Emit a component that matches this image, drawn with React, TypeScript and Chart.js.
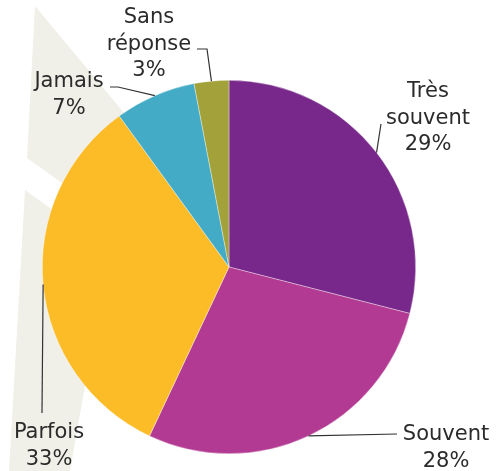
import React, { useEffect, useRef } from "react";
import { Chart, registerables } from "chart.js";

Chart.register(...registerables);

const categories = ["Très souvent", "Souvent", "Parfois", "Jamais", "Sans réponse"];
const values = [29, 28, 33, 7, 3];
const colors = ["#77288A", "#B23A93", "#FCBC28", "#43ABC5", "#A2A13A"];

// label layout: leader path points after the arc anchor, text centre x, first baseline
const labelLayout = [
  { path: [[381, 124]], cx: 428, y: 97 },
  { path: [[397, 434]], cx: 446, y: 440 },
  { path: [[42, 413]], cx: 49, y: 438 },
  { path: [[118, 87], [110, 87]], cx: 69, y: 87 },
  { path: [[207, 49], [197, 49]], cx: 149, y: 23 },
];

const decoShapes = [
  [[35, 6], [130, 120], [150, 210], [62, 183], [27, 158]],
  [[25, 190], [150, 280], [100, 300], [70, 471], [9, 471]],
];

export default function App() {
  const ref = useRef<HTMLCanvasElement>(null);
  useEffect(() => {
    const deco = {
      id: "deco",
      beforeDatasetsDraw(chart: any) {
        const ctx = chart.ctx;
        ctx.save();
        ctx.fillStyle = "#F0F0E8";
        for (const s of decoShapes) {
          ctx.beginPath();
          s.forEach((p, i) => (i ? ctx.lineTo(p[0], p[1]) : ctx.moveTo(p[0], p[1])));
          ctx.closePath();
          ctx.fill();
        }
        ctx.restore();
      },
    };
    const labels = {
      id: "labels",
      afterDatasetsDraw(chart: any) {
        const ctx = chart.ctx;
        const meta = chart.getDatasetMeta(0);
        ctx.save();
        meta.data.forEach((arc: any, i: number) => {
          const { x, y, startAngle, endAngle, outerRadius } = arc.getProps(
            ["x", "y", "startAngle", "endAngle", "outerRadius"],
            true
          );
          const mid = (startAngle + endAngle) / 2;
          const ax = x + Math.cos(mid) * outerRadius;
          const ay = y + Math.sin(mid) * outerRadius;
          const L = labelLayout[i];
          ctx.strokeStyle = "#333";
          ctx.lineWidth = 1.2;
          ctx.beginPath();
          ctx.moveTo(ax, ay);
          L.path.forEach((p) => ctx.lineTo(p[0], p[1]));
          ctx.stroke();
          ctx.fillStyle = "#2B2B2B";
          ctx.font = "21px 'DejaVu Sans'";
          ctx.textAlign = "center";
          ctx.textBaseline = "alphabetic";
          const lines = [...categories[i].split(" "), values[i] + "%"];
          lines.forEach((t, j) => ctx.fillText(t, L.cx, L.y + j * 26.5));
        });
        ctx.restore();
      },
    };
    const chart = new Chart(ref.current!, {
      type: "pie",
      data: {
        labels: categories,
        datasets: [
          {
            data: values,
            backgroundColor: colors,
            borderColor: "rgba(255,255,255,0.6)",
            borderWidth: 0.6,
          },
        ],
      },
      options: {
        responsive: false,
        animation: false,
        layout: { padding: { left: 42, right: 87, top: 80, bottom: 17 } },
        plugins: { legend: { display: false }, tooltip: { enabled: false } },
      },
      plugins: [deco, labels],
    });
    return () => chart.destroy();
  }, []);
  return (
    <div style={{ position: "absolute", left: 0, top: 0, width: 503, height: 471, background: "#fff" }}>
      <canvas ref={ref} width={503} height={471} style={{ width: 503, height: 471 }} />
    </div>
  );
}
